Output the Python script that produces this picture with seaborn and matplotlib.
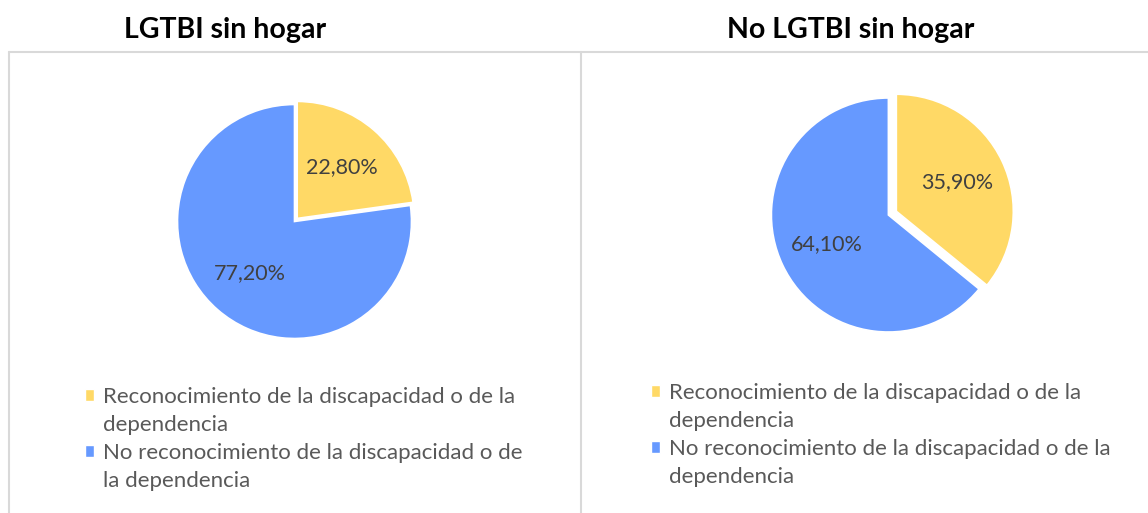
import matplotlib
matplotlib.use("Agg")
import matplotlib.pyplot as plt
import seaborn as sns
from matplotlib.patches import Patch
from matplotlib.lines import Line2D

# datos
categorias = ["Reconocimiento de la discapacidad o de la dependencia",
              "No reconocimiento de la discapacidad o de la dependencia"]
titulos = ["LGTBI sin hogar", "No LGTBI sin hogar"]
lgtbi = [22.8, 77.2]
no_lgtbi = [35.9, 64.1]
colores = ["#FFD966", "#6699FF"]

# texto de la leyenda tal como aparece partido en cada gráfico
leyenda_lgtbi = ["Reconocimiento de la discapacidad o de la", "dependencia",
                 "No reconocimiento de la discapacidad o de", "la dependencia"]
leyenda_no_lgtbi = ["Reconocimiento de la discapacidad o de la", "dependencia",
                    "No reconocimiento de la discapacidad o de la", "dependencia"]

sns.set_theme(style="white")
plt.rcParams['font.family'] = ['Lato', 'DejaVu Sans']

W, H = 1148, 513
fig = plt.figure(figsize=(W / 100, H / 100), dpi=100)
fig.patch.set_facecolor("white")

# marcos de los paneles
gris = "#D9D9D9"
fig.add_artist(Line2D([9 / W, 1], [1 - 52 / H, 1 - 52 / H], color=gris, lw=1.5))
for xp in [9, 581]:
    fig.add_artist(Line2D([xp / W, xp / W], [0, 1 - 52 / H], color=gris, lw=1.5))


def formato(p):
    return f"{p:.2f}%".replace(".", ",")


def pastel(valores, cx, cy, r, explode, titulo, tx, leyenda, lx, ly):
    half = 1.2 * r
    ax = fig.add_axes([(cx - half) / W, (H - cy - half) / H, 2 * half / W, 2 * half / H])
    wedges, _, autotexts = ax.pie(valores, colors=colores, startangle=90, counterclock=False,
                                  explode=[explode, 0], autopct=formato, pctdistance=0.58,
                                  wedgeprops=dict(edgecolor="white", linewidth=1.2),
                                  textprops=dict(color="#404040", fontsize=15.5))
    ax.set_xlim(-1.2, 1.2)
    ax.set_ylim(-1.2, 1.2)
    ax.set_aspect("equal")
    ax.axis("off")

    fig.text(tx / W, 1 - 30 / H, titulo, ha="center", va="center",
             fontsize=20.5, fontweight="bold", color="black")

    handles = [Patch(facecolor=colores[0]), Patch(facecolor="none", edgecolor="none"),
               Patch(facecolor=colores[1]), Patch(facecolor="none", edgecolor="none")]
    leg = fig.legend(handles, leyenda, loc="upper left", bbox_to_anchor=(lx / W, 1 - ly / H),
                     frameon=False, fontsize=16, handlelength=0.42, handleheight=0.42,
                     handletextpad=0.38, labelspacing=0.36, borderpad=0, borderaxespad=0)
    for t in leg.get_texts():
        t.set_color("#595959")
    return ax


pastel(lgtbi, 294.5, 221.5, 117, 0.035, titulos[0], 225, leyenda_lgtbi, 85, 387)
pastel(no_lgtbi, 888.4, 215, 117, 0.075, titulos[1], 851, leyenda_no_lgtbi, 651, 383)

fig.savefig("out.png", dpi=100, facecolor="white")
